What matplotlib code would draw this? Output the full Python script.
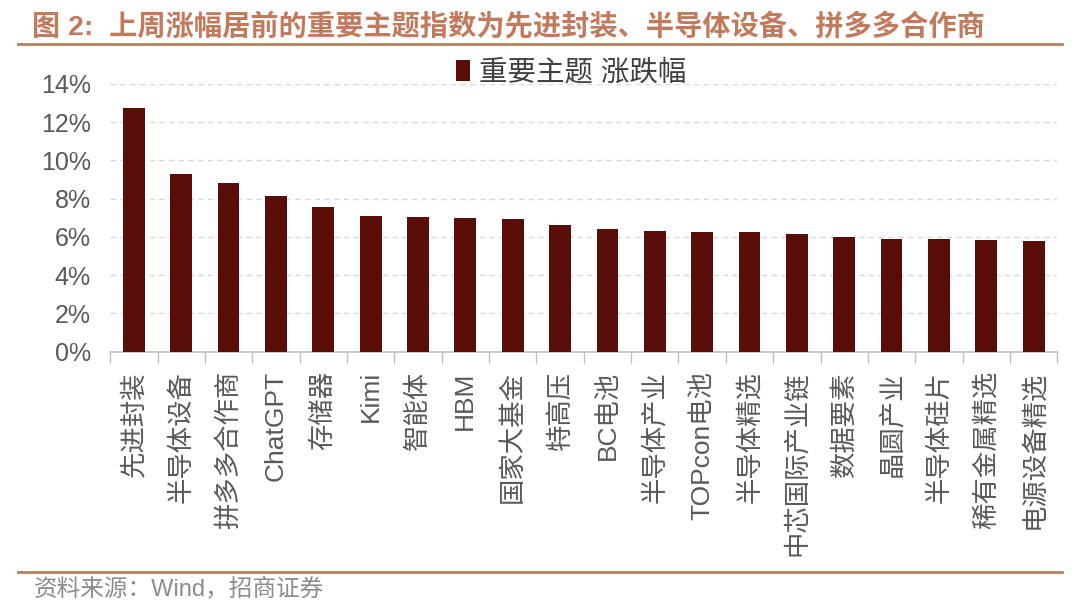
import matplotlib
matplotlib.use('Agg')
import matplotlib.pyplot as plt
from matplotlib.lines import Line2D
import numpy as np

plt.rcParams['font.family'] = ['Liberation Sans', 'Noto Sans CJK SC', 'DejaVu Sans']

categories = ['先进封装', '半导体设备', '拼多多合作商', 'ChatGPT', '存储器', 'Kimi',
              '智能体', 'HBM', '国家大基金', '特高压', 'BC电池', '半导体产业',
              'TOPcon电池', '半导体精选', '中芯国际产业链', '数据要素', '晶圆产业',
              '半导体硅片', '稀有金属精选', '电源设备精选']
values = [12.74, 9.28, 8.80, 8.14, 7.56, 7.10, 7.02, 7.00, 6.91, 6.60, 6.42,
          6.30, 6.26, 6.23, 6.16, 6.00, 5.90, 5.90, 5.82, 5.81]
yticks = [0, 2, 4, 6, 8, 10, 12, 14]

title = '图 2:  上周涨幅居前的重要主题指数为先进封装、半导体设备、拼多多合作商'
source = '资料来源：Wind，招商证券'
series_name = '重要主题 涨跌幅'

bar_color = '#580d08'
accent = '#c27a5c'
text_gray = '#595959'

fig = plt.figure(figsize=(10.8, 6.16), dpi=100)
ax = fig.add_axes([0.102, 0.429, 0.877, 0.435])

x = np.arange(len(categories))
ax.bar(x, values, width=0.46, color=bar_color, label=series_name, zorder=3)

ax.set_xlim(-0.5, len(categories) - 0.5)
ax.set_ylim(0, 14)
ax.set_yticks(yticks)
ax.set_yticklabels([f'{t}%' for t in yticks], fontsize=18, color=text_gray)
ax.tick_params(axis='y', length=0, pad=14)

ax.set_xticks(x)
ax.set_xticklabels(categories, rotation=90, fontsize=19, color=text_gray,
                   ha='center', va='top')
ax.tick_params(axis='x', which='major', length=0, pad=14)
ax.set_xticks(np.arange(len(categories) + 1) - 0.5, minor=True)
ax.tick_params(axis='x', which='minor', length=8, color='#bfbfbf', width=1)

ax.yaxis.grid(True, linestyle=(0, (4, 3)), color='#d9d9d9', linewidth=1, zorder=0)
for side in ['top', 'right', 'left']:
    ax.spines[side].set_visible(False)
ax.spines['bottom'].set_color('#bfbfbf')
ax.spines['bottom'].set_linewidth(1.2)

fig.legend(loc='center', bbox_to_anchor=(0.529, 0.882), frameon=False,
           fontsize=20.5, handlelength=0.5, handleheight=0.75, handletextpad=0.3,
           labelcolor='#404040')

fig.text(0.03, 1 - 26 / 616, title, fontsize=20.3, fontweight='bold', color=accent,
         va='center', ha='left')
fig.add_artist(Line2D([0.017, 0.983], [1 - 44 / 616] * 2, transform=fig.transFigure,
                      color=accent, linewidth=2))
fig.add_artist(Line2D([0.017, 0.983], [1 - 572 / 616] * 2, transform=fig.transFigure,
                      color=accent, linewidth=2))
fig.text(0.031, 1 - 589 / 616, source, fontsize=17, color='#8c8c8c',
         va='center', ha='left')

fig.savefig('out.png', dpi=100)
